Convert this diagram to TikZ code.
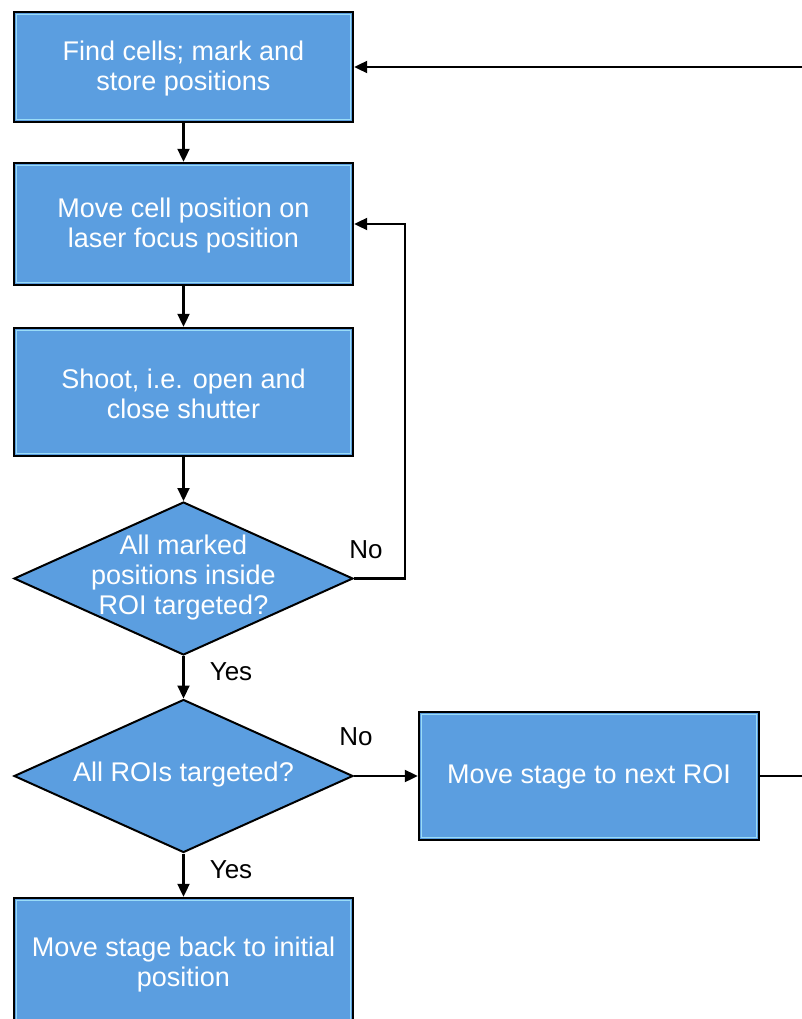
\documentclass[tikz,border=0pt]{standalone}
\usepackage{fontspec}
\setmainfont{Liberation Sans}
\usetikzlibrary{shapes.geometric,arrows.meta}
\definecolor{boxfill}{HTML}{5B9EE0}
\definecolor{innerline}{HTML}{9ADCF7}
\tikzset{
  flowbox/.style={rectangle, draw=black, line width=2.4pt, fill=boxfill,
    inner sep=0pt, text=white, align=center,
    font=\fontsize{27}{30}\selectfont,
    path picture={\draw[innerline,line width=1.3pt]
      ([shift={(2.4pt,2.4pt)}]path picture bounding box.south west) rectangle
      ([shift={(-2.4pt,-2.4pt)}]path picture bounding box.north east);}},
  boxtext/.style={text=white, align=center, font=\fontsize{27}{30}\selectfont},
  decision/.style={diamond, draw=black, line width=2pt, fill=boxfill,
    inner sep=0pt, minimum width=339pt, minimum height=153pt, aspect=2.2},
  lbl/.style={text=black, font=\fontsize{26}{30}\selectfont},
  arrow/.style={line width=2.1pt, -{Triangle[length=13pt,width=12pt]}},
}
\begin{document}
\begin{tikzpicture}[x=1pt,y=-1pt]
\useasboundingbox (0,0) rectangle (801,1019);
\fill[white] (0,0) rectangle (801,1019);

\node[flowbox, minimum width=339pt, minimum height=110pt] (b1) at (183.5,67) {};
\node[boxtext] (b1t) at (183.5,69) {Find cells; mark and\\store positions};
\node[flowbox, minimum width=339pt, minimum height=122pt] (b2) at (183.5,224) {};
\node[boxtext] (b2t) at (183.5,226) {Move cell position on\\laser focus position};
\node[flowbox, minimum width=339pt, minimum height=128pt] (b3) at (183.5,392) {};
\node[boxtext] (b3t) at (183.5,394) {Shoot, i.e. open and\\close shutter};
\node[decision] (d1) at (183.5,578.5) {};
\node[boxtext] (d1t) at (183.5,578) {All marked\\positions inside\\ROI targeted?};
\node[decision] (d2) at (183.5,776) {};
\node[boxtext] (d2t) at (183.5,775) {All ROIs targeted?};
\node[flowbox, minimum width=340pt, minimum height=128pt] (b5) at (589,776) {};
\node[boxtext] (b5t) at (589,777) {Move stage to next ROI};
\node[flowbox, minimum width=339pt, minimum height=130pt] (b6) at (183.5,963) {};
\node[boxtext] (b6t) at (183.5,965) {Move stage back to initial\\position};

\node[lbl] (no1) at (366,550) {No};
\node[lbl] (no2) at (356,737) {No};
\node[lbl] (yes1) at (231,672) {Yes};
\node[lbl] (yes2) at (231,870) {Yes};

\coordinate (loop1) at (405,578.5);
\coordinate (loop2) at (830,776);

\draw[arrow] (b1) -- (b2);
\draw[arrow] (b2) -- (b3);
\draw[arrow] (b3) -- (d1);
\draw[arrow] (d1) -- (d2);
\draw[arrow] (d2) -- (b6);
\draw[arrow] (d2.east) -- (b5.west);
\draw[arrow] (d1.east) -- (loop1) |- (b2.east);
\draw[arrow] (b5.east) -- (loop2) |- (b1.east);
\end{tikzpicture}
\end{document}
